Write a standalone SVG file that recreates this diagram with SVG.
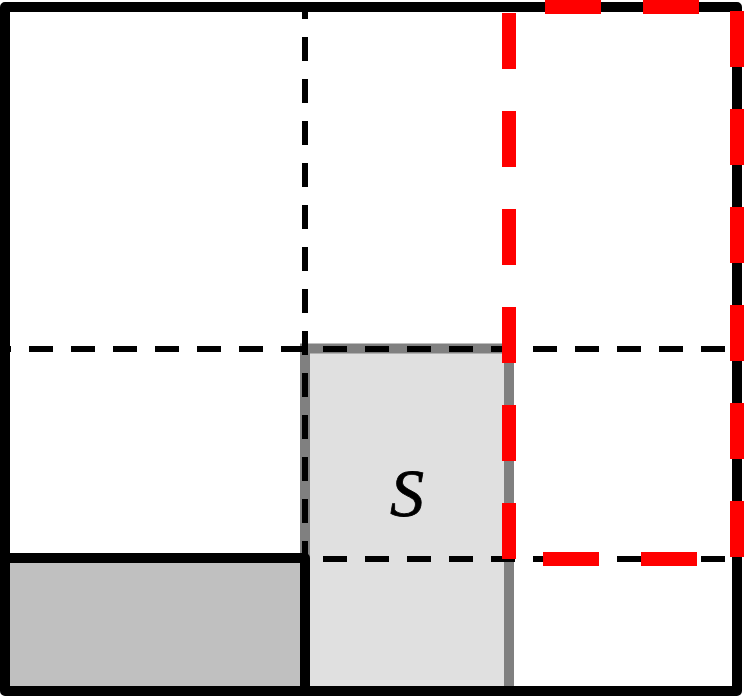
<svg xmlns="http://www.w3.org/2000/svg" width="744" height="696" viewBox="0 0 744 696">
  <style>
    .dash { stroke: #000; stroke-width: 6; stroke-dasharray: 24 18; fill: none; }
    .solid { stroke: #000; stroke-width: 10; fill: none; stroke-linejoin: round; }
    .red { stroke: #ff0000; stroke-width: 14; stroke-dasharray: 56 42; fill: none; }
    .label { font-family: "Liberation Serif", "DejaVu Serif", serif; font-style: italic; font-size: 68px; fill: #000; stroke: #000; stroke-width: 0.8; }
  </style>
  <rect width="744" height="696" fill="#ffffff"/>
  <g id="region-dark">
    <rect x="5" y="558" width="300" height="133" fill="#c0c0c0"/>
  </g>
  <g id="region-S">
    <rect x="305" y="348.5" width="204" height="342.5" fill="#e0e0e0" stroke="#808080" stroke-width="10"/>
    <text class="label" x="407" y="516" text-anchor="middle">S</text>
  </g>
  <g id="grid-lines">
    <line class="dash" x1="305" y1="7" x2="305" y2="560" stroke-dashoffset="12"/>
    <line class="dash" x1="5" y1="349" x2="737" y2="349" stroke-dashoffset="18"/>
    <line class="dash" x1="305" y1="559" x2="737" y2="559" stroke-dashoffset="24"/>
  </g>
  <g id="outer">
    <rect class="solid" x="5" y="7" width="732" height="684"/>
    <path class="solid" d="M0 558 H305 V691"/>
  </g>
  <g id="red-box">
    <path class="red" d="M509 559 V7 H737 V559 Z"/>
  </g>
</svg>
